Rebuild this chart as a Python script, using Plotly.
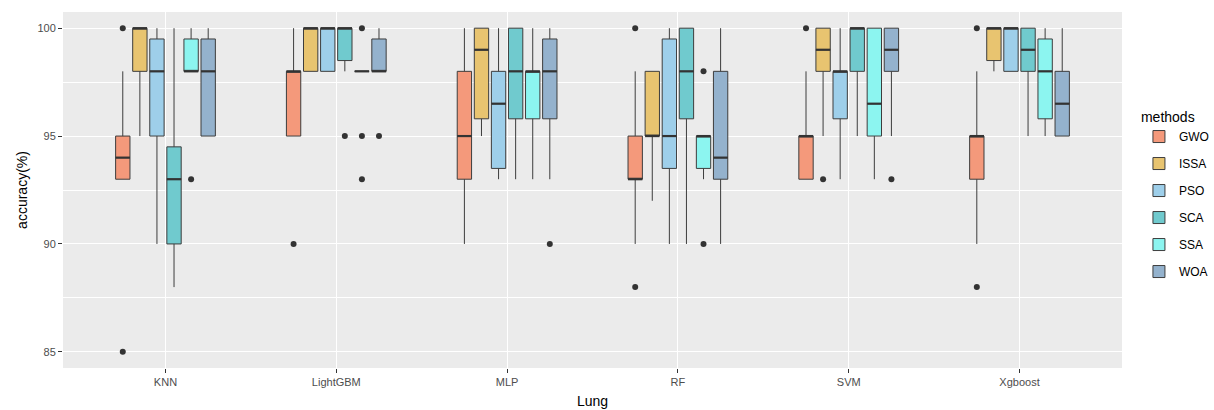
import plotly.graph_objects as go

categories = ["KNN", "LightGBM", "MLP", "RF", "SVM", "Xgboost"]
methods = ["GWO", "ISSA", "PSO", "SCA", "SSA", "WOA"]
colors = ["#F4997B", "#E8C470", "#9ECFEA", "#70CACE", "#8CF5F0", "#94B2CD"]

# per method: values per category (KNN, LightGBM, MLP, RF, SVM, Xgboost)
gwo_lo  = [93, 95, 90, 90, 93, 90]
gwo_q1  = [93, 95, 93, 93, 93, 93]
gwo_med = [94, 98, 95, 93, 95, 95]
gwo_q3  = [95, 98, 98, 95, 95, 95]
gwo_hi  = [98, 100, 100, 98, 98, 98]
gwo_out = [[85, 100], [90], [], [100, 88], [100], [100, 88]]

issa_lo  = [95, 98, 95, 92, 95, 98]
issa_q1  = [98, 98, 95.8, 95, 98, 98.5]
issa_med = [100, 100, 99, 95, 99, 100]
issa_q3  = [100, 100, 100, 98, 100, 100]
issa_hi  = [100, 100, 100, 98, 100, 100]
issa_out = [[], [], [], [], [93], []]

pso_lo  = [90, 98, 93, 90, 93, 98]
pso_q1  = [95, 98, 93.5, 93.5, 95.8, 98]
pso_med = [98, 100, 96.5, 95, 98, 100]
pso_q3  = [99.5, 100, 98, 99.5, 98, 100]
pso_hi  = [100, 100, 100, 100, 100, 100]
pso_out = [[], [], [], [], [], []]

sca_lo  = [88, 98, 93, 90, 95, 95]
sca_q1  = [90, 98.5, 95.8, 95.8, 98, 98]
sca_med = [93, 100, 98, 98, 100, 99]
sca_q3  = [94.5, 100, 100, 100, 100, 100]
sca_hi  = [100, 100, 100, 100, 100, 100]
sca_out = [[], [95], [], [], [], []]

ssa_lo  = [98, 98, 93, 93, 93, 95]
ssa_q1  = [98, 98, 95.8, 93.5, 95, 95.8]
ssa_med = [98, 98, 98, 95, 96.5, 98]
ssa_q3  = [99.5, 98, 98, 95, 100, 99.5]
ssa_hi  = [100, 98, 100, 95, 100, 100]
ssa_out = [[93], [100, 95, 93], [], [98, 90], [], []]

woa_lo  = [95, 98, 93, 90, 95, 95]
woa_q1  = [95, 98, 95.8, 93, 98, 95]
woa_med = [98, 98, 98, 94, 99, 96.5]
woa_q3  = [99.5, 99.5, 99.5, 98, 100, 98]
woa_hi  = [100, 100, 100, 100, 100, 100]
woa_out = [[], [95], [90], [], [93], []]

stats = {
    "GWO": (gwo_lo, gwo_q1, gwo_med, gwo_q3, gwo_hi, gwo_out),
    "ISSA": (issa_lo, issa_q1, issa_med, issa_q3, issa_hi, issa_out),
    "PSO": (pso_lo, pso_q1, pso_med, pso_q3, pso_hi, pso_out),
    "SCA": (sca_lo, sca_q1, sca_med, sca_q3, sca_hi, sca_out),
    "SSA": (ssa_lo, ssa_q1, ssa_med, ssa_q3, ssa_hi, ssa_out),
    "WOA": (woa_lo, woa_q1, woa_med, woa_q3, woa_hi, woa_out),
}

dodge = 0.1
box_w = 0.084
n = len(methods)

fig = go.Figure()
FONT = "Liberation Sans, Arial, sans-serif"

for j, (m, c) in enumerate(zip(methods, colors)):
    lo, q1, med, q3, hi, out = stats[m]
    xs = [i + (j - (n - 1) / 2) * dodge for i in range(len(categories))]
    fig.add_trace(go.Box(
        name=m, x=xs, q1=q1, median=med, q3=q3, lowerfence=lo, upperfence=hi,
        fillcolor=c, line=dict(color="#3d3d3d", width=1), width=box_w,
        whiskerwidth=0, boxpoints=False, legendgroup=m, showlegend=True,
        hoverinfo="skip",
    ))
    # thicker median segments
    mx, my = [], []
    for x, v in zip(xs, med):
        mx += [x - box_w / 2, x + box_w / 2, None]
        my += [v, v, None]
    fig.add_trace(go.Scatter(x=mx, y=my, mode="lines",
                             line=dict(color="#333333", width=2.2),
                             showlegend=False, legendgroup=m, hoverinfo="skip"))
    ox, oy = [], []
    for x, pts in zip(xs, out):
        for p in pts:
            ox.append(x)
            oy.append(p)
    if ox:
        fig.add_trace(go.Scatter(x=ox, y=oy, mode="markers",
                                 marker=dict(color="#333333", size=6),
                                 showlegend=False, legendgroup=m, hoverinfo="skip"))

fig.update_layout(
    width=1214, height=410,
    margin=dict(l=63, r=92, t=12, b=42, autoexpand=False),
    plot_bgcolor="#EBEBEB", paper_bgcolor="white",
    font=dict(family=FONT, color="#4D4D4D", size=11),
    legend=dict(title=dict(text="methods", font=dict(size=14, color="black")),
                x=1.016, xanchor="left", y=0.485, yanchor="middle",
                font=dict(size=12, color="black"), bgcolor="white",
                tracegroupgap=8),
    showlegend=True,
)
fig.update_xaxes(
    range=[-0.6, len(categories) - 0.4],
    tickvals=list(range(len(categories))), ticktext=categories,
    showgrid=True, gridcolor="white", gridwidth=1.1,
    ticks="outside", ticklen=4, tickcolor="#333333",
    tickfont=dict(size=11, color="#4D4D4D"),
    zeroline=False, showline=False, automargin=False,
    title=dict(text="Lung", font=dict(size=14, color="black"), standoff=8),
)
fig.update_yaxes(
    range=[84.25, 100.75],
    tickvals=[85, 90, 95, 100],
    showgrid=True, gridcolor="white", gridwidth=1.1,
    minor=dict(tick0=85, dtick=2.5, showgrid=True, gridcolor="white", gridwidth=0.5),
    ticks="outside", ticklen=4, tickcolor="#333333",
    tickfont=dict(size=11, color="#4D4D4D"),
    zeroline=False, showline=False, automargin=False,
    title=dict(text="accuracy(%)", font=dict(size=14, color="black"), standoff=6),
)

fig.write_html("out.html", config={"displayModeBar": False},
               post_script="document.body.style.margin='0px';")
